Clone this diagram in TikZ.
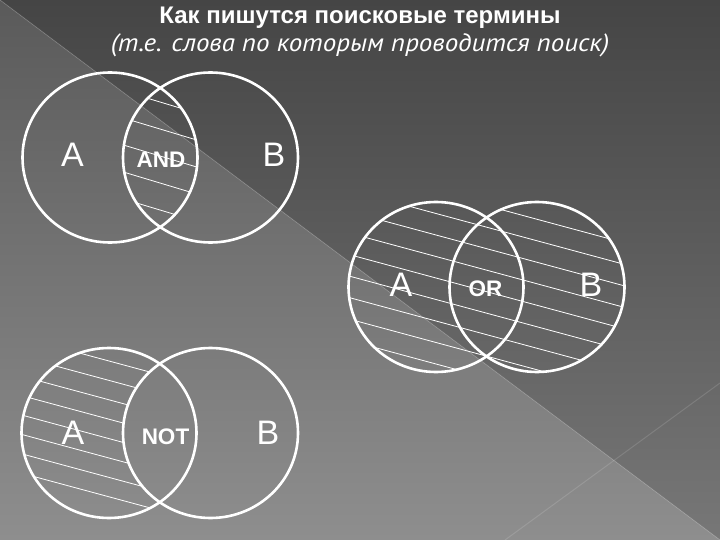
\documentclass[tikz,border=0pt]{standalone}
\usepackage{fontspec}
\setmainfont{Liberation Sans}
\newfontfamily\ptsans[FakeStretch=1.08]{PT Sans}
\definecolor{bgRT}{HTML}{454545}
\definecolor{bgRB}{HTML}{777777}
\definecolor{bgLT}{HTML}{5A5A5A}
\definecolor{bgLB}{HTML}{8E8E8E}
\tikzset{
  ring/.style={draw=white, line width=2.6pt},
  hatchline/.style={draw=white, line width=0.8pt},
  lbl/.style={text=white, font=\fontsize{34}{34}\selectfont, inner sep=0pt},
  opname/.style={text=white, font=\bfseries\fontsize{22.5}{22.5}\selectfont, inner sep=0pt},
  faint/.style={draw=white, opacity=0.13, line width=1pt}
}
\newcommand{\venn}[1]{#1 ellipse [x radius=87.5pt, y radius=85pt]}
\begin{document}
\begin{tikzpicture}[x=1pt,y=-1pt]
\useasboundingbox (0,0) rectangle (720,540);
% background
\shade[top color=bgLT, bottom color=bgLB] (0,0) -- (0,540) -- (720,540) -- cycle;
\shade[top color=bgRT, bottom color=bgRB] (0,0) -- (720,0) -- (720,540) -- cycle;
\coordinate (d1) at (0,0);
\coordinate (d2) at (720,540);
\coordinate (d3) at (505,540);
\coordinate (d4) at (720,383);
\draw[faint] (d1) -- (d2);
\draw[faint] (d3) -- (d4);

% title
\node[text=white, font=\bfseries\fontsize{24}{24}\selectfont, anchor=base, inner sep=0pt] (title) at (360,23.5) {Как пишутся поисковые термины};
\node[text=white, font=\ptsans\itshape\fontsize{25}{25}\selectfont, anchor=base, inner sep=0pt] (subtitle) at (360,52) {(т.е. слова по которым проводится поиск)};

% ---------- AND ----------
\begin{scope}
  \clip \venn{(110,157.5)};
  \clip \venn{(210.5,157.5)};
  \foreach \k in {0,...,4}
    \draw[hatchline] (60,{102+27*\k-0.3*100}) -- (260,{102+27*\k+0.3*100});
\end{scope}
\draw[ring] \venn{(110,157.5)};
\draw[ring] \venn{(210.5,157.5)};
\node[lbl] (andA) at (72.5,155) {A};
\node[opname] (andOp) at (161,159.5) {AND};
\node[lbl] (andB) at (274,155) {B};

% ---------- OR ----------
\begin{scope}
  \clip \venn{(436,287)} \venn{(537,287)};
  \foreach \k in {-1,...,8}
    \draw[hatchline] (330,{213.5+21.5*\k-0.27*106}) -- (640,{213.5+21.5*\k+0.27*204});
\end{scope}
\draw[ring] \venn{(436,287)};
\draw[ring] \venn{(537,287)};
\node[lbl] (orA) at (401,285) {A};
\node[opname] (orOp) at (485.5,289) {OR};
\node[lbl] (orB) at (591,285) {B};

% ---------- NOT ----------
\begin{scope}
  \clip \venn{(109,433)};
  \begin{scope}[even odd rule]
    \clip (0,300) rectangle (400,540) \venn{(210.5,433)};
    \foreach \k in {0,...,7}
      \draw[hatchline] (10,{361+19.4*\k-0.27*99}) -- (220,{361+19.4*\k+0.27*111});
  \end{scope}
\end{scope}
\draw[ring] \venn{(109,433)};
\draw[ring] \venn{(210.5,433)};
\node[lbl] (notA) at (73,433) {A};
\node[opname] (notOp) at (165.5,437) {NOT};
\node[lbl] (notB) at (268,433) {B};
\end{tikzpicture}
\end{document}
